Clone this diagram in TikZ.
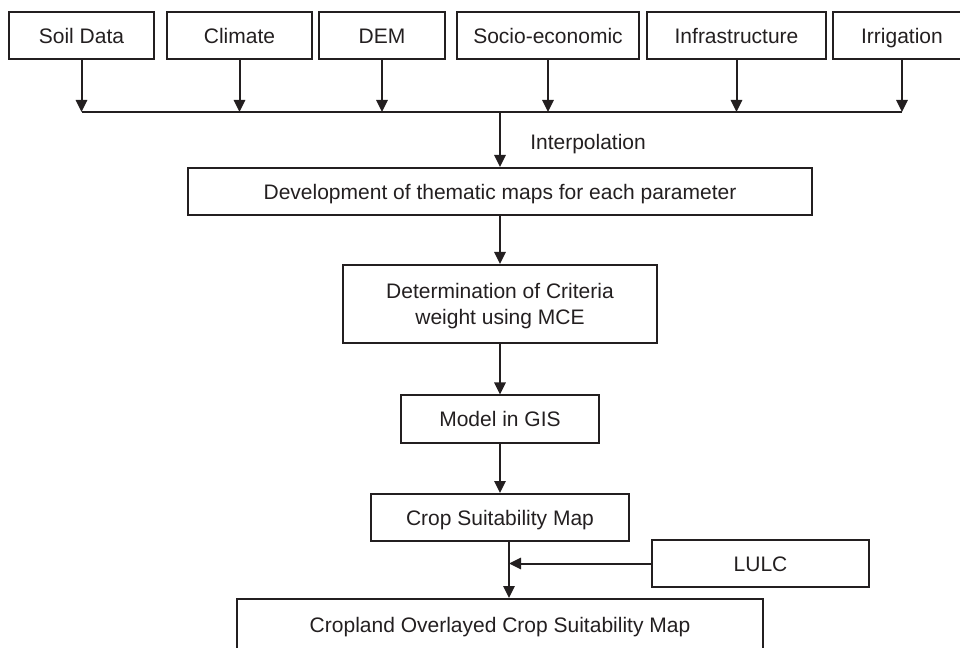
\documentclass[tikz,border=0pt]{standalone}
\usepackage{fontspec}
\setmainfont{Liberation Sans}
\usetikzlibrary{arrows.meta}
\definecolor{ink}{RGB}{35,31,32}
\tikzset{
  box/.style={draw, line width=1.5pt, minimum height=35.25pt, inner sep=2pt, text height=11.5pt, text depth=0pt, align=center},
  arr/.style={line width=1.5pt, -{Triangle[width=8.5pt,length=9pt]}},
  bus/.style={line width=1.5pt}
}
\begin{document}
\begin{tikzpicture}[x=0.75pt,y=-0.75pt,color=ink,font=\fontsize{15.75pt}{20pt}\selectfont]
\useasboundingbox (0,0) rectangle (960,648);

% input layers
\foreach \nm/\cx/\w/\txt in {soil/81.5/145/Soil Data, clim/239.5/145/Climate, dem/382/126/DEM, socio/548/182/Socio-economic, infra/736.5/179/Infrastructure, irrig/902/138/Irrigation}
  \node[box, minimum width=\w*0.75pt] (\nm) at (\cx,35.5) {\txt};

\coordinate (busL) at (82,112);
\foreach \nm in {soil,clim,dem,socio,infra,irrig}
  \draw[arr] (\nm) -- (\nm |- busL);
\draw[bus] (soil |- busL) -- (irrig |- busL);

% main chain
\node[box, minimum width=624*0.75pt] (dev) at (500,191.5) {Development of thematic maps for each parameter};
\draw[arr] (dev |- busL) -- (dev);
\node[anchor=west, inner sep=0pt] (interp) at (530,144) {Interpolation};

\node[box, text height={}, minimum width=314*0.75pt, minimum height=78*0.75pt] (det) at (500,304) {Determination of Criteria\\weight using MCE};
\node[box, minimum width=198*0.75pt] (gis) at (500,419) {Model in GIS};
\node[box, minimum width=258*0.75pt] (csm) at (500,517.5) {Crop Suitability Map};
\node[box, minimum width=217*0.75pt] (lulc) at (760.5,563.5) {LULC};
\node[box, minimum width=526*0.75pt, minimum height=52*0.75pt] (over) at (500,625) {Cropland Overlayed Crop Suitability Map};

\draw[arr] (dev) -- (det);
\draw[arr] (det) -- (gis);
\draw[arr] (gis) -- (csm);

% LULC overlay
\coordinate (join) at (509,563.5);
\draw[arr] (csm.south -| join) -- (over.north -| join);
\draw[arr] (lulc) -- (join);
\end{tikzpicture}
\end{document}
